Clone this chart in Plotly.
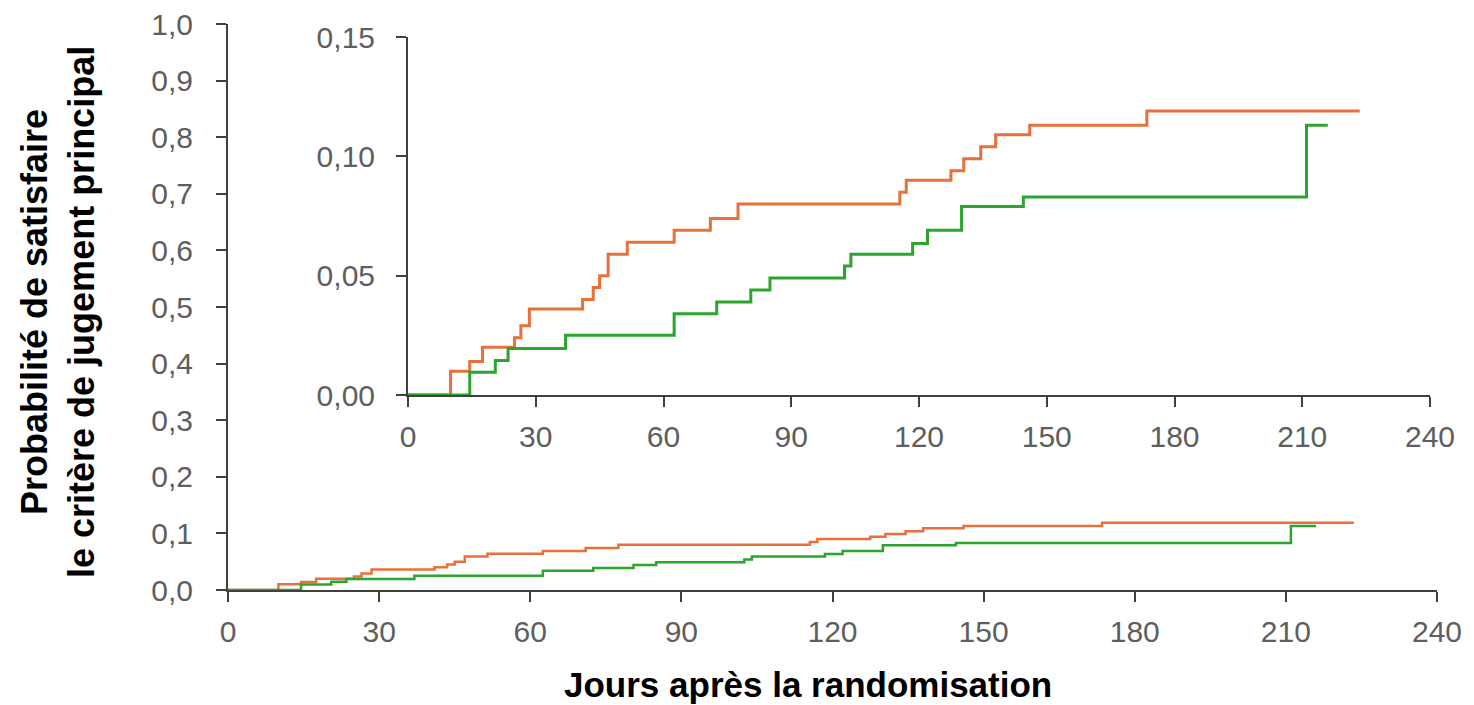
import plotly.graph_objects as go

# Kaplan-Meier style cumulative incidence (step curves), two arms
jours_orange = [0, 10, 14.5, 17.5, 25, 26.5, 28.5, 41, 43.5, 45, 47, 51.5,
                62.5, 71, 77.5, 115.5, 117, 127.5, 130.5, 134.5, 138, 146,
                173.5, 223.5]
proba_orange = [0, 0.010, 0.014, 0.020, 0.024, 0.029, 0.036, 0.040, 0.045,
                0.050, 0.059, 0.064, 0.069, 0.074, 0.080, 0.085, 0.090,
                0.094, 0.099, 0.104, 0.109, 0.113, 0.119, 0.119]

jours_vert = [0, 14.5, 20.5, 23.5, 37, 62.5, 72.5, 80.5, 85, 102.5, 104,
              118.5, 122, 130, 144.5, 211, 216]
proba_vert = [0, 0.0095, 0.0145, 0.0195, 0.025, 0.034, 0.039, 0.044, 0.049,
              0.054, 0.059, 0.0635, 0.069, 0.079, 0.083, 0.113, 0.113]

x_ticks = [0, 30, 60, 90, 120, 150, 180, 210, 240]
y_ticks_main = [0.0, 0.1, 0.2, 0.3, 0.4, 0.5, 0.6, 0.7, 0.8, 0.9, 1.0]
y_ticks_zoom = [0.00, 0.05, 0.10, 0.15]

ORANGE = "#E8703A"
VERT = "#2BA52B"
AXIS = "#404040"
LABEL = "#5E5E5E"
FONT = "Liberation Sans, Arial, sans-serif"

W, H = 1474, 705

fig = go.Figure()

# full-scale panel
fig.add_trace(go.Scatter(x=jours_orange, y=proba_orange, mode="lines",
                         line=dict(color=ORANGE, width=2.5, shape="hv"),
                         xaxis="x", yaxis="y"))
fig.add_trace(go.Scatter(x=jours_vert, y=proba_vert, mode="lines",
                         line=dict(color=VERT, width=2.5, shape="hv"),
                         xaxis="x", yaxis="y"))
# zoomed inset
fig.add_trace(go.Scatter(x=jours_orange, y=proba_orange, mode="lines",
                         line=dict(color=ORANGE, width=3, shape="hv"),
                         xaxis="x2", yaxis="y2"))
fig.add_trace(go.Scatter(x=jours_vert, y=proba_vert, mode="lines",
                         line=dict(color=VERT, width=3, shape="hv"),
                         xaxis="x2", yaxis="y2"))

axis_style = dict(showline=True, linecolor=AXIS, linewidth=2,
                  ticks="outside", ticklen=10, tickwidth=2, tickcolor=AXIS,
                  tickfont=dict(family=FONT, size=30, color=LABEL),
                  showgrid=False, zeroline=False, layer="below traces",
                  automargin=False, fixedrange=True)

fig.update_layout(
    width=W, height=H,
    margin=dict(l=0, r=0, t=0, b=0),
    paper_bgcolor="white", plot_bgcolor="white",
    showlegend=False,
    separators=", ",
    xaxis=dict(domain=[228 / W, 1437 / W], range=[0, 240],
               tickvals=x_ticks, anchor="y", ticklabelstandoff=4,
               **axis_style),
    yaxis=dict(domain=[1 - 590 / H, 1 - 24 / H], range=[0, 1],
               tickvals=y_ticks_main, tickformat=".1f", anchor="x",
               ticklabelstandoff=17, **axis_style),
    xaxis2=dict(domain=[408 / W, 1430 / W], range=[0, 240],
                tickvals=x_ticks, anchor="y2", ticklabelstandoff=4,
                **axis_style),
    yaxis2=dict(domain=[1 - 395 / H, 1 - 37 / H], range=[0, 0.15],
                tickvals=y_ticks_zoom, tickformat=".2f", anchor="x2",
                ticklabelstandoff=15, **axis_style),
    annotations=[
        dict(text="<b>Jours après la randomisation</b>",
             x=808 / W, y=1 - 684 / H, xref="paper", yref="paper",
             showarrow=False, xanchor="center", yanchor="middle",
             font=dict(family=FONT, size=35, color="black")),
        dict(text="<b>Probabilité de satisfaire<br>le critère de jugement principal</b>",
             x=58 / W, y=1 - 312 / H, xref="paper", yref="paper",
             showarrow=False, xanchor="center", yanchor="middle",
             textangle=-90, align="center",
             font=dict(family=FONT, size=36, color="black")),
    ],
)

fig.write_html("out.html")
